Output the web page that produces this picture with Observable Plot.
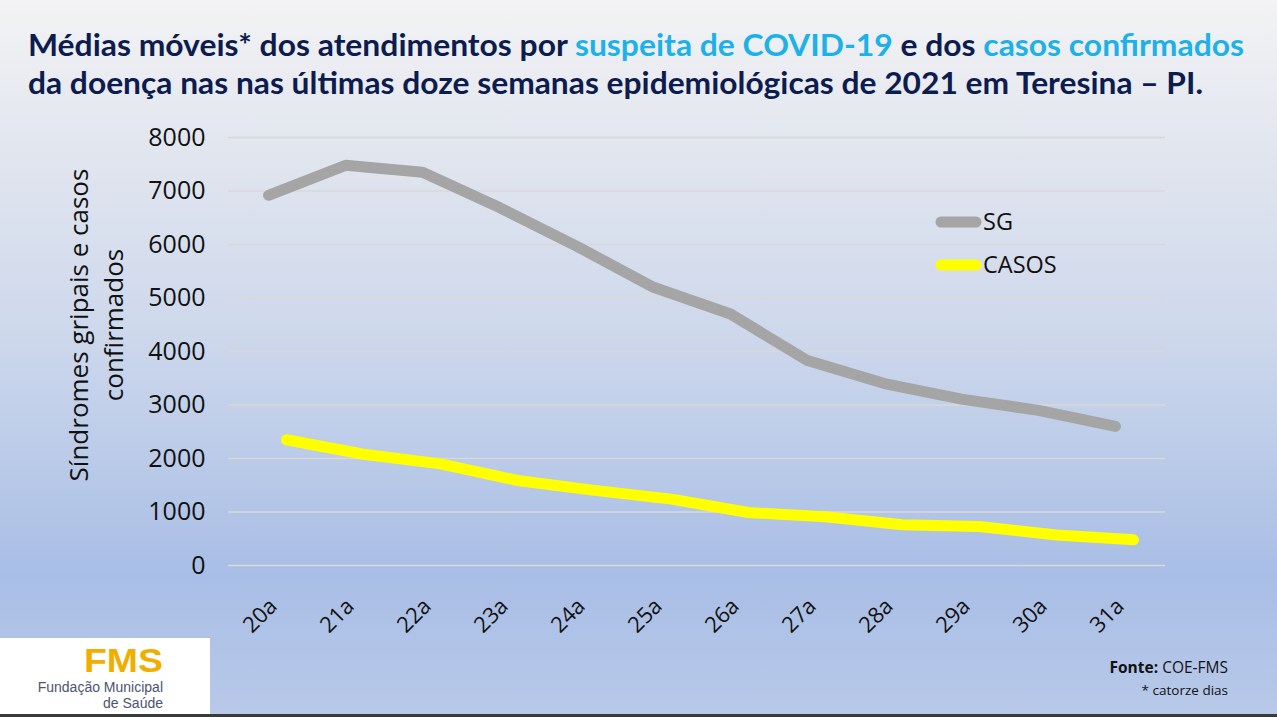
<!DOCTYPE html>
<html>
<head>
<meta charset="utf-8">
<script src="https://cdn.jsdelivr.net/npm/d3@7"></script>
<script src="https://cdn.jsdelivr.net/npm/@observablehq/plot@0.6"></script>
<style>
  html, body { margin:0; padding:0; }
  body { width:1277px; height:717px; overflow:hidden; }
  #stage {
    position:relative; width:1277px; height:717px;
    background: linear-gradient(to bottom, #f3f3f4 0%, #e2e6ef 20%, #cfd9ec 45%, #b4c6e7 70%, #a9bee6 80%, #b8c9e9 100%);
    font-family: "Open Sans", sans-serif;
  }
  #chart { position:absolute; left:0; top:110px; }
  #overlay { position:absolute; left:0; top:0; pointer-events:none; }
</style>
</head>
<body>
<div id="stage">
  <div id="chart"></div>
  <svg id="overlay" width="1277" height="717" xmlns="http://www.w3.org/2000/svg">
    <text x="28" y="56" font-family="Lato" font-weight="700" font-size="31" fill="#0d1c4f" textLength="1216" lengthAdjust="spacingAndGlyphs">Médias móveis* dos atendimentos por <tspan fill="#1db1ea">suspeita de COVID-19</tspan> e dos <tspan fill="#1db1ea">casos confirmados</tspan></text>
    <text x="28" y="94" font-family="Lato" font-weight="700" font-size="31" fill="#0d1c4f" textLength="1175" lengthAdjust="spacingAndGlyphs">da doença nas nas últimas doze semanas epidemiológicas de 2021 em Teresina – PI.</text>

    <text transform="translate(88,325) rotate(-90)" text-anchor="middle" font-family="Open Sans" font-size="26" fill="#111">Síndromes gripais e casos</text>
    <text transform="translate(123,325) rotate(-90)" text-anchor="middle" font-family="Open Sans" font-size="26" fill="#111">confirmados</text>

    <line x1="941" y1="222" x2="976" y2="222" stroke="#a5a5a5" stroke-width="11" stroke-linecap="round"/>
    <text x="983" y="230" font-family="Open Sans" font-size="23.5" fill="#111">SG</text>
    <line x1="941" y1="265" x2="976" y2="265" stroke="#ffff00" stroke-width="11" stroke-linecap="round"/>
    <text x="983" y="273" font-family="Open Sans" font-size="23.5" fill="#111">CASOS</text>

    <rect x="0" y="638" width="210" height="76" fill="#ffffff"/>
    <text x="163" y="672" text-anchor="end" font-family="Liberation Sans" font-weight="700" font-size="34" fill="#f0ae00" textLength="79" lengthAdjust="spacingAndGlyphs">FMS</text>
    <text x="163" y="692" text-anchor="end" font-family="Liberation Sans" font-size="14" fill="#4b5472">Fundação Municipal</text>
    <text x="163" y="708" text-anchor="end" font-family="Liberation Sans" font-size="14" fill="#4b5472">de Saúde</text>

    <text x="1228" y="673" text-anchor="end" font-family="Open Sans" font-size="15.5" fill="#111"><tspan font-weight="700">Fonte:</tspan> COE-FMS</text>
    <text x="1228" y="695" text-anchor="end" font-family="Open Sans" font-size="13.5" fill="#111">* catorze dias</text>

    <rect x="0" y="714" width="1277" height="3" fill="#3a3a3a"/>
  </svg>
</div>
<script>
const weeks = ["20a","21a","22a","23a","24a","25a","26a","27a","28a","29a","30a","31a"];
const sg    = [6920, 7480, 7350, 6690, 5970, 5200, 4700, 3830, 3400, 3110, 2900, 2600];
const casos = [2350, 2080, 1900, 1590, 1405, 1240, 990, 910, 760, 730, 570, 480];
const yTicks = [0, 1000, 2000, 3000, 4000, 5000, 6000, 7000, 8000];

const sgData = weeks.map((w, i) => ({week: w, value: sg[i]}));
const casosData = weeks.map((w, i) => ({week: w, value: casos[i]}));

const chart = Plot.plot({
  width: 1277,
  height: 540,
  marginLeft: 228,
  marginRight: 112,
  marginTop: 27,
  marginBottom: 85,
  style: {background: "transparent", fontFamily: "Open Sans", color: "#111", overflow: "visible"},
  x: {type: "point", domain: weeks, range: [265, 1118], padding: 0, axis: null},
  y: {domain: [0, 8000], axis: null},
  marks: [
    Plot.gridY(yTicks, {stroke: "#d8d8d8", strokeOpacity: 1, strokeWidth: 1.5}),
    Plot.axisY(yTicks, {tickSize: 0, tickPadding: 23, fontSize: 25, label: null, fill: "#111", tickFormat: d3.format("d")}),
    Plot.line(sgData, {x: "week", y: "value", stroke: "#a5a5a5", strokeWidth: 11, strokeLinecap: "round", strokeLinejoin: "round"}),
    Plot.line(casosData, {x: "week", y: "value", dx: 18, stroke: "#ffff00", strokeWidth: 11, strokeLinecap: "round", strokeLinejoin: "round"}),
    Plot.text(weeks, {x: d => d, y: () => 0, text: d => d, rotate: -45, textAnchor: "end", lineAnchor: "middle", dx: 5, dy: 37, fontSize: 22, fill: "#111"})
  ]
});
document.getElementById("chart").appendChild(chart);
</script>
</body>
</html>
